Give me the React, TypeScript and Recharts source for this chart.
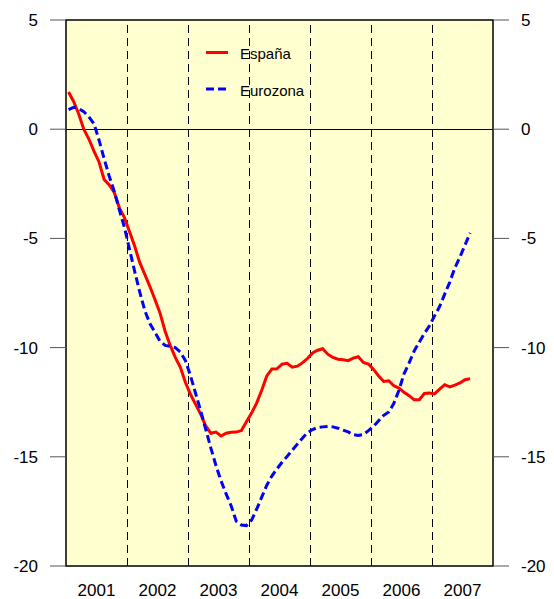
import React from 'react';
import { LineChart, Line, XAxis, YAxis, ReferenceLine, ReferenceArea } from 'recharts';

const yearLabels = ['2001', '2002', '2003', '2004', '2005', '2006', '2007'];
const yearBoundaries = [12, 24, 36, 48, 60, 72];
const yearCenters = [6, 18, 30, 42, 54, 66, 78];
const yTicks = [-20, -15, -10, -5, 0, 5];

// Monthly values, Jan 2001 - Aug 2007
const espana = [
  1.7, 1.27, 0.7, 0.0, -0.45, -1.0, -1.5, -2.3, -2.55, -2.9, -3.6, -4.05,
  -4.7, -5.35, -6.1, -6.65, -7.2, -7.8, -8.42, -9.25, -9.9, -10.45, -10.9, -11.6,
  -12.15, -12.6, -13.05, -13.6, -13.92, -13.87, -14.05, -13.92, -13.88, -13.87, -13.8, -13.4,
  -13.0, -12.54, -11.95, -11.3, -10.98, -10.97, -10.76, -10.72, -10.9, -10.85, -10.7, -10.5,
  -10.25, -10.12, -10.05, -10.3, -10.45, -10.53, -10.56, -10.6, -10.48, -10.42, -10.68, -10.75,
  -11.0, -11.3, -11.55, -11.52, -11.75, -11.85, -12.05, -12.2, -12.39, -12.39, -12.1, -12.08,
  -12.12, -11.9, -11.7, -11.8, -11.72, -11.62, -11.47, -11.42,
];

const eurozona = [
  0.9, 1.0, 0.95, 0.8, 0.57, 0.25, -0.5, -1.35, -2.15, -2.85, -3.7, -4.5,
  -5.5, -6.5, -7.45, -8.3, -8.9, -9.3, -9.71, -9.9, -9.94, -10.0, -10.2, -10.6,
  -11.3, -12.1, -12.9, -13.75, -14.6, -15.4, -16.1, -16.7, -17.25, -17.95, -18.12, -18.15,
  -17.9, -17.4, -16.85, -16.3, -15.88, -15.55, -15.25, -14.98, -14.7, -14.42, -14.15, -13.9,
  -13.75, -13.66, -13.63, -13.61, -13.63, -13.69, -13.78, -13.86, -13.98, -14.02, -13.98, -13.8,
  -13.6, -13.35, -13.1, -12.95, -12.55, -11.95, -11.2, -10.7, -10.15, -9.75, -9.35, -9.0,
  -8.55, -8.12, -7.55, -7.0, -6.35, -5.85, -5.3, -4.75,
];

const data = espana.map((v, i) => ({ x: i + 0.5, espana: v, eurozona: eurozona[i] }));

const FONT = '"Liberation Sans", Arial, sans-serif';

const crispV = (p: any) => (
  <line
    x1={Math.round(p.x1) + 0.5}
    x2={Math.round(p.x2) + 0.5}
    y1={p.y1}
    y2={p.y2}
    stroke="#000"
    strokeWidth={1}
    strokeDasharray="8 5"
  />
);

const crispH = (p: any) => (
  <line
    x1={p.x1}
    x2={p.x2}
    y1={Math.round(p.y1) + 0.5}
    y2={Math.round(p.y2) + 0.5}
    stroke="#000"
    strokeWidth={1}
  />
);

export default function App() {
  return (
    <div style={{ position: 'absolute', left: 0, top: 0, width: 554, height: 599, background: '#fff' }}>
      <LineChart width={554} height={599} data={data} margin={{ top: 20, right: 0, bottom: 0, left: 0 }}>
        <XAxis
          xAxisId="x"
          dataKey="x"
          type="number"
          domain={[0, 84]}
          ticks={yearCenters}
          tickFormatter={(v: number) => yearLabels[Math.floor(v / 12)]}
          axisLine={false}
          tickLine={false}
          tickSize={0}
          tickMargin={18}
          height={33}
          allowDataOverflow
          tick={{ fill: '#000', fontSize: 17, fontFamily: FONT }}
        />
        <YAxis
          yAxisId="l"
          orientation="left"
          domain={[-20, 5]}
          ticks={yTicks}
          width={66}
          axisLine={false}
          tickSize={16}
          tickMargin={12}
          tickLine={{ stroke: '#555' }}
          allowDataOverflow
          tick={{ fill: '#000', fontSize: 17, fontFamily: FONT }}
        />
        <YAxis
          yAxisId="r"
          orientation="right"
          domain={[-20, 5]}
          ticks={yTicks}
          width={61}
          axisLine={false}
          tickSize={16}
          tickMargin={12}
          tickLine={{ stroke: '#555' }}
          allowDataOverflow
          tick={{ fill: '#000', fontSize: 17, fontFamily: FONT, textAnchor: 'start' }}
        />
        <ReferenceArea
          xAxisId="x"
          yAxisId="l"
          x1={0}
          x2={84}
          y1={-20}
          y2={5}
          fill="#FFFFD0"
          fillOpacity={1}
          stroke="#000"
          strokeWidth={1.5}
          ifOverflow="visible"
        />
        {yearBoundaries.map((b) => (
          <ReferenceLine key={b} xAxisId="x" yAxisId="l" x={b} stroke="#000" shape={crispV} />
        ))}
        <ReferenceLine xAxisId="x" yAxisId="l" y={0} stroke="#000" shape={crispH} />
        <Line
          xAxisId="x"
          yAxisId="l"
          type="linear"
          dataKey="espana"
          stroke="#FF0000"
          strokeWidth={3}
          dot={false}
          isAnimationActive={false}
        />
        <Line
          xAxisId="x"
          yAxisId="l"
          type="linear"
          dataKey="eurozona"
          stroke="#0000FF"
          strokeWidth={3}
          strokeDasharray="8 4"
          dot={false}
          isAnimationActive={false}
        />
      </LineChart>
      <svg
        width={554}
        height={599}
        style={{ position: 'absolute', left: 0, top: 0, pointerEvents: 'none' }}
      >
        <line x1={206} y1={52.5} x2={228} y2={52.5} stroke="#FF0000" strokeWidth={3} />
        <text x={240} y={59} fontSize={15} fontFamily={FONT} fill="#000">España</text>
        <line x1={206} y1={89} x2={228} y2={89} stroke="#0000FF" strokeWidth={3} strokeDasharray="8 4" />
        <text x={240} y={95.5} fontSize={15} fontFamily={FONT} fill="#000">Eurozona</text>
      </svg>
    </div>
  );
}
